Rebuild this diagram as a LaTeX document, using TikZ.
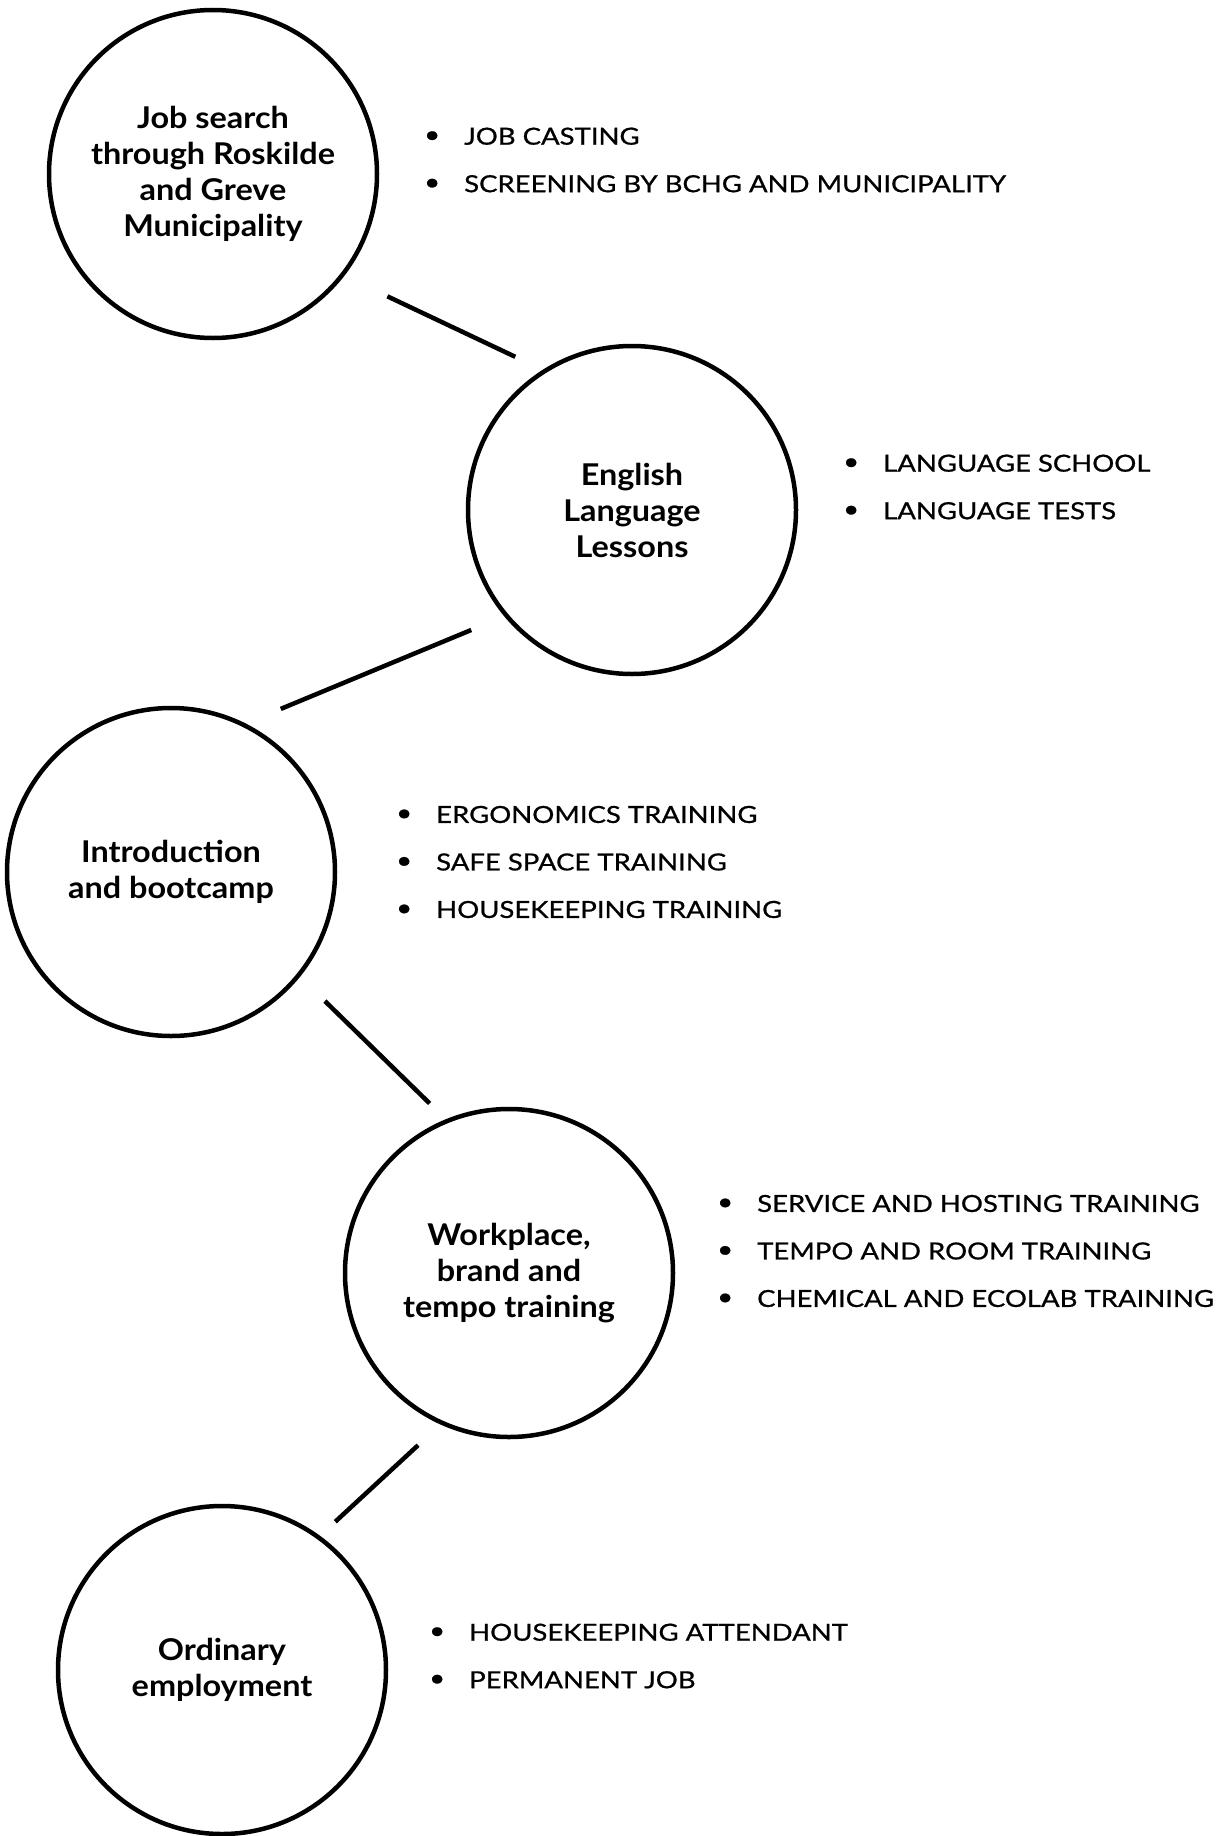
\documentclass[tikz,border=0pt]{standalone}
\usepackage{fontspec}
\setmainfont{Lato}
\newfontfamily\stagefont{Lato}[FakeStretch=1.08]
\newfontfamily\itemfont{Lato}[FakeStretch=1.17, FakeBold=0.8]
\usetikzlibrary{positioning}
\newcommand{\bul}[1]{\makebox[40pt][l]{\raisebox{2pt}{\textbullet}}#1}

\begin{document}
\begin{tikzpicture}[
    x=1pt, y=-1pt,
    stage/.style={circle, draw, line width=4.5pt, fill=white, minimum size=328pt, inner sep=0pt, outer sep=0pt, align=center, font=\stagefont\bfseries\fontsize{30}{36}\selectfont},
    items/.style={inner sep=0pt, align=left, font=\itemfont\fontsize{23.5}{47.5}\selectfont},
    link/.style={line width=4.5pt}
]
\useasboundingbox (0,0) rectangle (1221,1836);
\node (search) [stage] at (213,174) {Job search\\through Roskilde\\and Greve\\Municipality};
\node (english) [stage] at (632,510) {English\\Language\\Lessons};
\node (intro) [stage] at (171,872) {Introduction\\and bootcamp};
\node (workplace) [stage] at (509,1273) {Workplace,\\brand and\\tempo training};
\node (employ) [stage] at (222,1670) {Ordinary\\employment};
\node (searchlist) [items, right=47pt of search, yshift=14pt] {\bul{JOB CASTING}\\\bul{SCREENING BY BCHG AND MUNICIPALITY}};
\node (englishlist) [items, right=47pt of english, yshift=23pt] {\bul{LANGUAGE SCHOOL}\\\bul{LANGUAGE TESTS}};
\node (introlist) [items, right=61pt of intro, yshift=10pt] {\bul{ERGONOMICS TRAINING}\\\bul{SAFE SPACE TRAINING}\\\bul{HOUSEKEEPING TRAINING}};
\node (workplacelist) [items, right=44pt of workplace, yshift=22pt] {\bul{SERVICE AND HOSTING TRAINING}\\\bul{TEMPO AND ROOM TRAINING}\\\bul{CHEMICAL AND ECOLAB TRAINING}};
\node (employlist) [items, right=43pt of employ, yshift=14pt] {\bul{HOUSEKEEPING ATTENDANT}\\\bul{PERMANENT JOB}};
\draw [link, shorten <=50pt, shorten >=33pt] (search.-38.6) -- (english.122.4);
\draw [link, shorten <=38pt, shorten >=41pt] (english.220.9) -- (intro.64.5);
\draw [link, shorten <=37pt, shorten >=25pt] (intro.-39.5) -- (workplace.112.4);
\draw [link, shorten <=33pt, shorten >=23pt] (workplace.-114.1) -- (employ.54.5);
\end{tikzpicture}
\end{document}
